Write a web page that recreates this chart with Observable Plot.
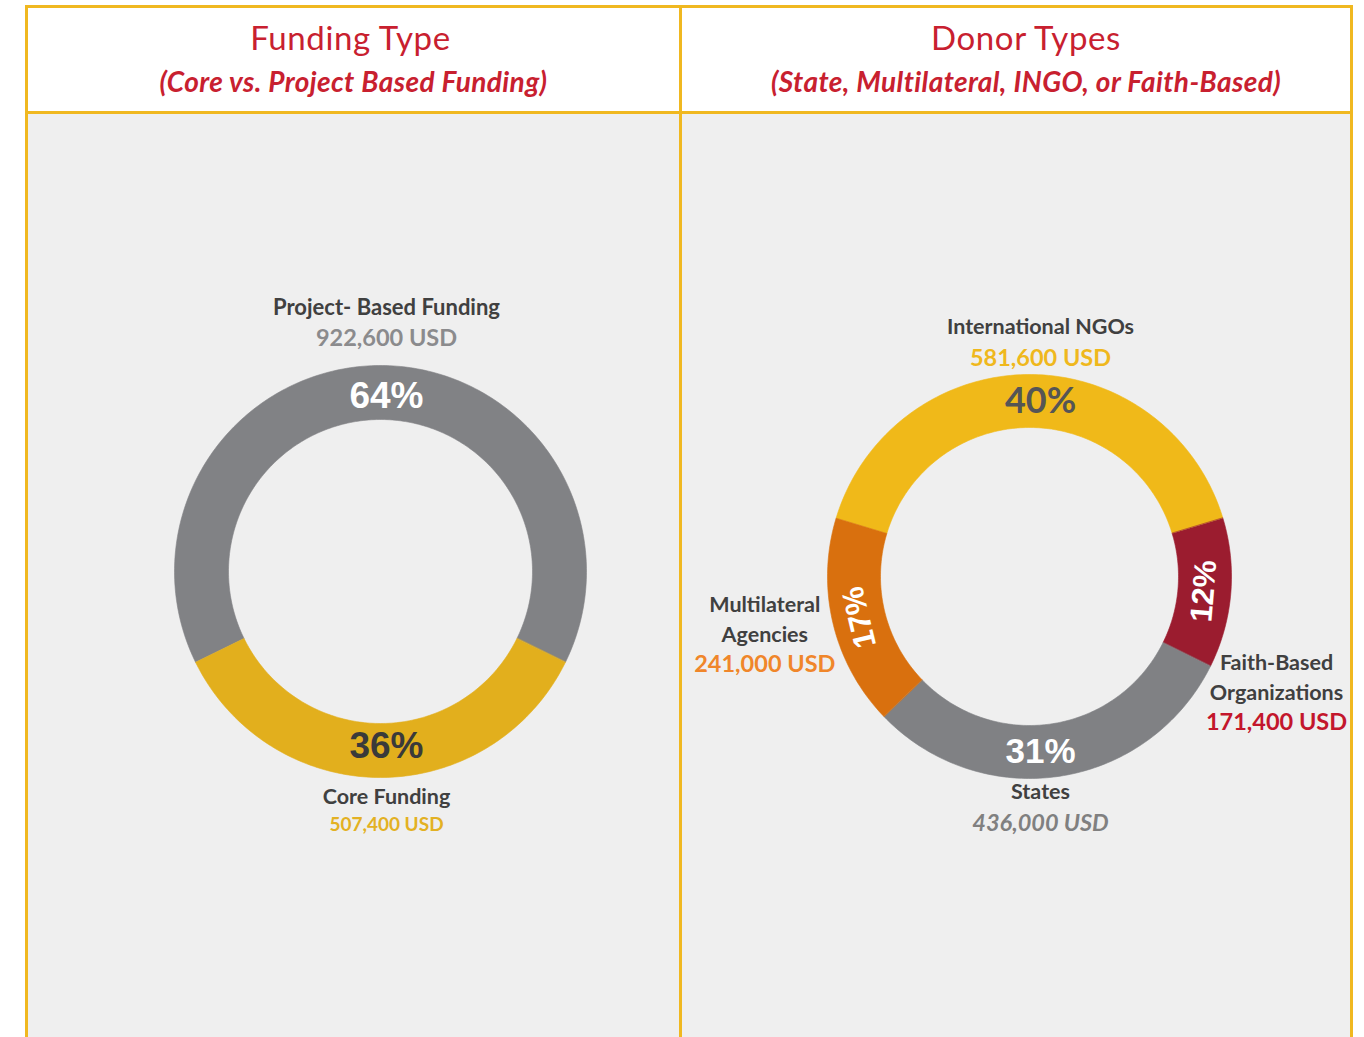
<!DOCTYPE html>
<html>
<head>
<meta charset="utf-8">
<script src="https://cdn.jsdelivr.net/npm/d3@7"></script>
<script src="https://cdn.jsdelivr.net/npm/@observablehq/plot@0.6"></script>
<style>
  html, body { margin: 0; padding: 0; background: #ffffff; }
  body { width: 1364px; height: 1037px; overflow: hidden; position: relative; font-family: Lato, "Open Sans", sans-serif; }
  .hdr { position: absolute; top: 5px; height: 103px; border: 3px solid #f0b820; background: #fff; text-align: center; color: #c8202f; }
  .hdr .t { position: absolute; left: 0; right: 0; top: 9px; font-size: 33px; font-weight: 400; letter-spacing: 0.6px; line-height: 40px; }
  .hdr .s { position: absolute; left: 0; right: 0; top: 56px; font-size: 28px; font-weight: 700; font-style: italic; letter-spacing: 0.4px; line-height: 34px; }
  .body { position: absolute; top: 114px; height: 923px; border-left: 3px solid #f0b820; border-right: 3px solid #f0b820; background: #efefef; }
  .body svg { display: block; }
</style>
</head>
<body>
<div class="hdr" style="left:25px;width:651px;"><div class="t" id="t1" style="right:6px"></div><div class="s" id="s1"></div></div>
<div class="hdr" style="left:679px;width:668px;"><div class="t" id="t2" style="left:20px"></div><div class="s" id="s2" style="left:20px"></div></div>
<div class="body" id="p1" style="left:25px;width:651px;"></div>
<div class="body" id="p2" style="left:679px;width:668px;"></div>
<script>
// ================= DATA =================
const fundingTitle = "Funding Type";
const fundingSubtitle = "(Core vs. Project Based Funding)";
const fundingTypes = ["Project- Based Funding", "Core Funding"];
const fundingUSD = [922600, 507400];
const fundingPct = [64, 36];

const donorTitle = "Donor Types";
const donorSubtitle = "(State, Multilateral, INGO, or Faith-Based)";
const donorTypes = ["International NGOs", "Faith-Based\nOrganizations", "States", "Multilateral\nAgencies"];
const donorUSD = [581600, 171400, 436000, 241000];
const donorPct = [40, 12, 31, 17];

// ================= STYLE / LAYOUT =================
const fundingStyle = {
  width: 651, height: 923, cx: 352, cy: 457, rOuter: 206, rInner: 152, rLabel: 175, shift: 6,
  centerIndex: 1, centerAngle: 180,
  colors: ["#818285", "#e2af1d"],
  pctColors: ["#ffffff", "#3a3a3a"],
  pctFonts: ["Liberation Sans", "Liberation Sans"],
  pctSizes: [37, 37],
  amtColors: ["#8b8b8d", "#e3b123"],
  amtItalic: [false, false],
  amtSizes: [23.5, 19],
  nameSizes: [22, 21.5],
  callouts: [{angle: 0, dist: 248.5, lh: 31}, {angle: 180, dist: 239.5, lh: 27}]
};
const donorStyle = {
  width: 668, height: 923, cx: 347, cy: 462, rOuter: 202, rInner: 149, rLabel: 175, shift: 11,
  centerIndex: 0, centerAngle: 0,
  colors: ["#f0b919", "#9b1c2f", "#808184", "#d9700e"],
  pctColors: ["#555555", "#ffffff", "#ffffff", "#ffffff"],
  pctFonts: ["Lato", "Liberation Sans", "Liberation Sans", "Liberation Sans"],
  pctSizes: [36, 31, 35, 31],
  amtColors: ["#efb81d", "#c3162c", "#808080", "#f0862a"],
  amtItalic: [false, false, true, false],
  amtSizes: [23.5, 23.5, 23.5, 23.5],
  nameSizes: [21.5, 21.5, 21.5, 21.5],
  callouts: [{angle: 0, dist: 233.5, lh: 31}, {angle: 115.2, dist: 273, lh: 30},
             {angle: 180, dist: 231.5, lh: 31}, {angle: 257.6, dist: 271, lh: 30}]
};

function fmtUSD(v) { return d3.format(",")(v) + " USD"; }

function donut(names, values, pcts, st) {
  const rad = Math.PI / 180;
  const total = d3.sum(values);
  const before = d3.sum(values.slice(0, st.centerIndex));
  const start = st.centerAngle * rad - 2 * Math.PI * (before + values[st.centerIndex] / 2) / total;
  const rows = names.map((n, i) => ({name: n, value: values[i], pct: pcts[i], i}));
  const arcs = d3.pie().sort(null).value(d => d.value).startAngle(start).endAngle(start + 2 * Math.PI)(rows);

  // ring polygons
  const ring = [];
  for (const a of arcs) {
    const n = Math.max(2, Math.ceil((a.endAngle - a.startAngle) / rad));
    const pts = [];
    for (let k = 0; k <= n; k++) {
      const t = a.startAngle + (a.endAngle - a.startAngle) * k / n;
      pts.push({x: st.rOuter * Math.sin(t), y: st.rOuter * Math.cos(t)});
    }
    for (let k = n; k >= 0; k--) {
      const t = a.startAngle + (a.endAngle - a.startAngle) * k / n;
      pts.push({x: st.rInner * Math.sin(t), y: st.rInner * Math.cos(t)});
    }
    pts.forEach(p => ring.push({...p, name: a.data.name, fill: st.colors[a.data.i]}));
  }

  const marks = [
    Plot.line(ring, {x: "x", y: "y", z: "name", fill: "fill", stroke: "fill", strokeWidth: 0.6, curve: "linear-closed"})
  ];

  // percentage labels on the ring: a slice spanning the top or bottom of the ring is labelled there,
  // otherwise at its mid-angle, rotated along the ring
  const contains = (a, deg) => [-360, 0, 360].some(o => a.startAngle <= (deg + o) * rad && (deg + o) * rad <= a.endAngle);
  for (const a of arcs) {
    const i = a.data.i;
    let m = (a.startAngle + a.endAngle) / 2;
    if (contains(a, 0)) m = 0; else if (contains(a, 180)) m = Math.PI;
    const deg = ((m / rad) % 360 + 360) % 360;
    const side = (deg > 45 && deg < 135) || (deg > 225 && deg < 315);
    const rot = side ? (deg < 180 ? deg - 180 : deg - 360) : 0;
    const lab = [{x: st.rLabel * Math.sin(m) + (side ? 0 : st.shift), y: st.rLabel * Math.cos(m), text: a.data.pct + "%", rotate: rot}];
    marks.push(Plot.text(lab, {x: "x", y: "y", text: "text", rotate: "rotate", fill: st.pctColors[i],
      fontFamily: st.pctFonts[i], fontWeight: "bold", fontSize: st.pctSizes[i], textAnchor: "middle", lineAnchor: "middle"}));
  }

  // callout labels (name + amount)
  for (const a of arcs) {
    const i = a.data.i;
    const c = st.callouts[i];
    const ang = c.angle * rad;
    const side = !(c.angle === 0 || c.angle === 180);
    const bx = c.dist * Math.sin(ang) + (side ? 0 : st.shift);
    const byDown = -c.dist * Math.cos(ang);
    const nameLines = a.data.name.split("\n");
    const lines = nameLines.map(t => ({text: t, kind: "name"})).concat([{text: fmtUSD(a.data.value), kind: "amt"}]);
    const L = lines.length;
    lines.forEach((ln, j) => {
      const dDown = byDown + (j - (L - 1) / 2) * c.lh;
      ln.x = bx; ln.y = -dDown;
    });
    marks.push(Plot.text(lines.filter(l => l.kind === "name"), {x: "x", y: "y", text: "text", fill: "#404040",
      fontFamily: "Lato", fontWeight: "bold", fontSize: st.nameSizes[i], textAnchor: "middle", lineAnchor: "middle"}));
    marks.push(Plot.text(lines.filter(l => l.kind === "amt"), {x: "x", y: "y", text: "text", fill: st.amtColors[i],
      fontFamily: "Lato", fontWeight: "bold", fontStyle: st.amtItalic[i] ? "italic" : "normal",
      fontSize: st.amtSizes[i], textAnchor: "middle", lineAnchor: "middle"}));
  }

  return Plot.plot({
    width: st.width, height: st.height, margin: 0,
    x: {domain: [-st.cx, st.width - st.cx], axis: null},
    y: {domain: [-(st.height - st.cy), st.cy], axis: null},
    color: {type: "identity"},
    style: {background: "#efefef", overflow: "visible"},
    marks
  });
}

document.getElementById("t1").textContent = fundingTitle;
document.getElementById("s1").textContent = fundingSubtitle;
document.getElementById("t2").textContent = donorTitle;
document.getElementById("s2").textContent = donorSubtitle;
document.getElementById("p1").appendChild(donut(fundingTypes, fundingUSD, fundingPct, fundingStyle));
document.getElementById("p2").appendChild(donut(donorTypes, donorUSD, donorPct, donorStyle));
</script>
</body>
</html>
